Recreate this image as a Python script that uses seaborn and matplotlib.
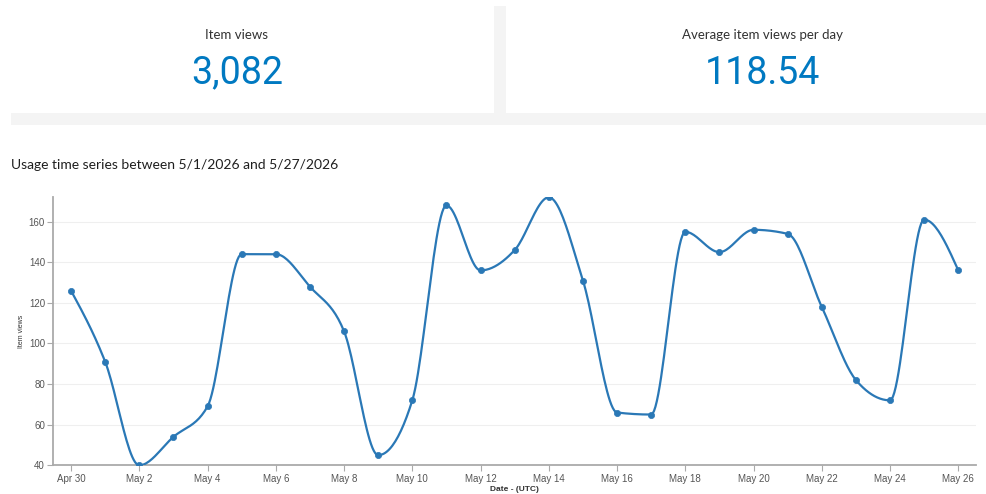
import matplotlib

matplotlib.use("Agg")

import matplotlib.pyplot as plt
import numpy as np
import pandas as pd
import seaborn as sns
from matplotlib.patches import Rectangle

# daily item views, Apr 30 .. May 26
DAY_LABELS = [
    "Apr 30", "May 1", "May 2", "May 3", "May 4", "May 5", "May 6", "May 7",
    "May 8", "May 9", "May 10", "May 11", "May 12", "May 13", "May 14",
    "May 15", "May 16", "May 17", "May 18", "May 19", "May 20", "May 21",
    "May 22", "May 23", "May 24", "May 25", "May 26",
]
VIEWS = [
    126, 91, 40, 54, 69, 144, 144, 128, 106, 45, 72, 168, 136, 146,
    172, 131, 66, 65, 155, 145, 156, 154, 118, 82, 72, 161, 136,
]
Y_TICKS = [40, 60, 80, 100, 120, 140, 160]

TOTAL_LABEL = "Item views"
TOTAL_VALUE = "3,082"
AVG_LABEL = "Average item views per day"
AVG_VALUE = "118.54"
TITLE = "Usage time series between 5/1/2026 and 5/27/2026"

BLUE = "#0079c1"
LINE = "#2a78b6"
PANEL_GRAY = "#f4f4f4"
ARIAL_LIKE = ["Liberation Sans", "DejaVu Sans"]


def monotone_curve(x: np.ndarray, y: np.ndarray, steps: int = 24) -> tuple[np.ndarray, np.ndarray]:
    # monotone cubic (d3 curveMonotoneX style) through the data points
    h = np.diff(x)
    s = np.diff(y) / h
    t = np.zeros_like(y, dtype=float)
    for i in range(1, len(y) - 1):
        p = (s[i - 1] * h[i] + s[i] * h[i - 1]) / (h[i - 1] + h[i])
        t[i] = (np.sign(s[i - 1]) + np.sign(s[i])) * min(abs(s[i - 1]), abs(s[i]), 0.5 * abs(p))
    t[0] = (3 * s[0] - t[1]) / 2
    t[-1] = (3 * s[-1] - t[-2]) / 2

    xs, ys = [], []
    for i in range(len(y) - 1):
        u = np.linspace(0, 1, steps, endpoint=False)
        h00 = 2 * u**3 - 3 * u**2 + 1
        h10 = u**3 - 2 * u**2 + u
        h01 = -2 * u**3 + 3 * u**2
        h11 = u**3 - u**2
        xs.append(x[i] + u * h[i])
        ys.append(h00 * y[i] + h10 * h[i] * t[i] + h01 * y[i + 1] + h11 * h[i] * t[i + 1])
    xs.append([x[-1]])
    ys.append([y[-1]])
    return np.concatenate(xs), np.concatenate(ys)


def main() -> None:
    sns.set_theme(style="white")
    plt.rcParams["font.family"] = ["Lato", "DejaVu Sans"]

    days = np.arange(len(VIEWS), dtype=float)
    values = np.array(VIEWS, dtype=float)
    curve_x, curve_y = monotone_curve(days, values)
    points = pd.DataFrame({"day": days, "views": values})
    curve = pd.DataFrame({"day": curve_x, "views": curve_y})

    fig = plt.figure(figsize=(9.87, 4.94), dpi=100)
    W, H = 987, 494

    def px_rect(x0, y0, x1, y1):
        return Rectangle((x0 / W, 1 - y1 / H), (x1 - x0) / W, (y1 - y0) / H,
                         transform=fig.transFigure, facecolor=PANEL_GRAY,
                         edgecolor="none", zorder=0)

    # gray gutters between the summary cards
    fig.patches.append(px_rect(494, 6, 506, 113))
    fig.patches.append(px_rect(11, 113, 987, 125))

    big = dict(ha="center", va="center", fontsize=27, color=BLUE,
               fontfamily=["Roboto", "Lato", "DejaVu Sans"])
    fig.text(237 / W, 1 - 35 / H, TOTAL_LABEL, ha="center", va="center",
             fontsize=9.5, color="#323232")
    fig.text(237 / W, 1 - 73 / H, TOTAL_VALUE, **big)
    fig.text(762 / W, 1 - 35 / H, AVG_LABEL, ha="center", va="center",
             fontsize=9.5, color="#323232")
    fig.text(762 / W, 1 - 73 / H, AVG_VALUE, **big)
    fig.text(11 / W, 1 - 165 / H, TITLE, ha="left", va="center",
             fontsize=10, color="#1f1f1f")

    ax = fig.add_axes([53.3 / W, 1 - 465.3 / H, (975.7 - 53.3) / W, (465.3 - 196.7) / H])
    sns.lineplot(data=curve, x="day", y="views", estimator=None, sort=False,
                 color=LINE, linewidth=1.6, ax=ax, zorder=3)
    sns.scatterplot(data=points, x="day", y="views", color=LINE, s=20,
                    edgecolor=LINE, linewidth=0.5, ax=ax, zorder=4)

    ax.set_xlim(-0.52, 26.51)
    ax.set_ylim(40, 172.3)
    ax.set_yticks(Y_TICKS)
    ax.set_xticks(days[::2])
    ax.set_xticklabels(DAY_LABELS[::2])
    ax.yaxis.grid(True, color="#efefef", linewidth=0.8)
    ax.set_axisbelow(True)

    for side in ["top", "right"]:
        ax.spines[side].set_visible(False)
    for side in ["left", "bottom"]:
        ax.spines[side].set_color("#aaaaaa")
        ax.spines[side].set_linewidth(1.3)

    ax.tick_params(axis="both", which="major", direction="out", length=4,
                   width=0.8, color="#aaaaaa", labelcolor="#555555", labelsize=7,
                   pad=2, left=True, bottom=True)
    for label in ax.get_xticklabels() + ax.get_yticklabels():
        label.set_fontfamily(ARIAL_LIKE)

    ax.set_xlabel("Date - (UTC)", fontsize=6, color="#333333", fontweight="bold",
                  fontfamily=ARIAL_LIKE, labelpad=1.5)
    ax.set_ylabel("Item views", fontsize=5, color="#333333",
                  fontfamily=ARIAL_LIKE, labelpad=3)

    fig.savefig("out.png", dpi=100)
    plt.close(fig)


if __name__ == "__main__":
    main()
